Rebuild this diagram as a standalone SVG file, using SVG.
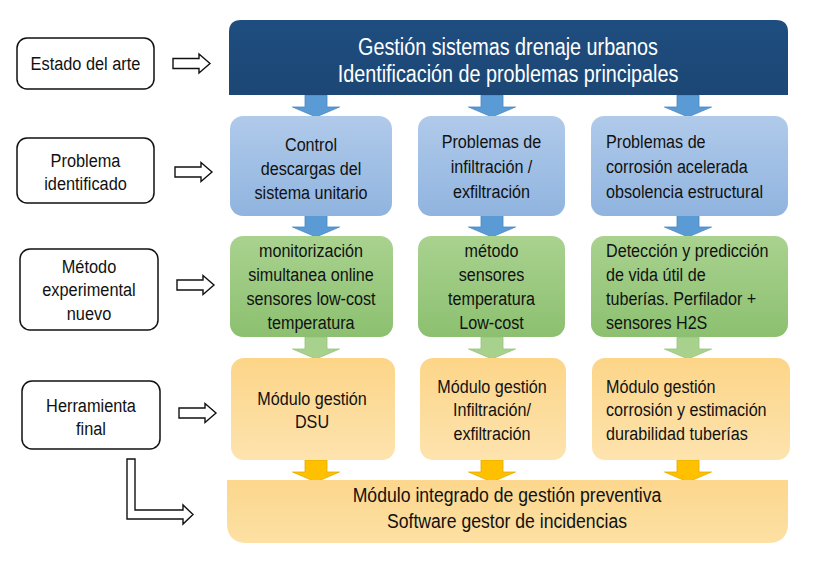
<svg xmlns="http://www.w3.org/2000/svg" width="814" height="569" viewBox="0 0 814 569">
<defs>
<linearGradient id="gBlue" x1="0" y1="0" x2="0" y2="1"><stop offset="0" stop-color="#b0caea"/><stop offset="1" stop-color="#90b4df"/></linearGradient>
<linearGradient id="gGreen" x1="0" y1="0" x2="0" y2="1"><stop offset="0" stop-color="#a9d28f"/><stop offset="1" stop-color="#8cc070"/></linearGradient>
<linearGradient id="gOrange" x1="0" y1="0" x2="0" y2="1"><stop offset="0" stop-color="#fcd588"/><stop offset="1" stop-color="#fde3ae"/></linearGradient>
<linearGradient id="gBottom" x1="0" y1="0" x2="0" y2="1"><stop offset="0" stop-color="#fcd78d"/><stop offset="1" stop-color="#fde0a4"/></linearGradient>
<linearGradient id="gNavy" x1="0" y1="0" x2="0" y2="1"><stop offset="0" stop-color="#1e4d7f"/><stop offset="1" stop-color="#1c4775"/></linearGradient>
<path id="down" d="M-11,0 H11 V12 H23.5 L0,22 L-23.5,12 H-11 Z"/>
<path id="open" d="M0,-5 H26 V-9.5 L37,0 L26,9.5 V5 H0 Z"/>
</defs>
<style>
text{font-family:"Liberation Sans",Arial,sans-serif;font-size:19px;fill:#111;}
.t{text-anchor:middle;}
.s{text-anchor:start;}
.title{font-size:23px;fill:#fff;text-anchor:middle;}
.big{font-size:21px;text-anchor:middle;}
.lab{fill:#fff;stroke:#111;stroke-width:1.5;}
.blue{fill:url(#gBlue);}
.green{fill:url(#gGreen);}
.orange{fill:url(#gOrange);}
.ob{fill:#fff;stroke:#111;stroke-width:1.4;}
.ab{fill:#5b9bd5;stroke:#4a86bf;stroke-width:0.8;}
.ag{fill:#a9d18e;stroke:#98c47c;stroke-width:0.8;}
.ay{fill:#ffc000;stroke:#e5ab00;stroke-width:0.8;}
</style>
<rect width="814" height="569" fill="#fff"/>

<g id="connectors">
<use href="#open" class="ob" transform="translate(173 63.5)"/>
<use href="#open" class="ob" transform="translate(175 172)"/>
<use href="#open" class="ob" transform="translate(177 285)"/>
<use href="#open" class="ob" transform="translate(179 413)"/>
<path class="ob" d="M127,459 H135 V510 H183 V505 L193,514.5 L183,524 V519 H127 Z"/>
<use href="#down" class="ab" transform="translate(316 95)"/>
<use href="#down" class="ab" transform="translate(492 95)"/>
<use href="#down" class="ab" transform="translate(688 95)"/>
<use href="#down" class="ab" transform="translate(316 215)"/>
<use href="#down" class="ab" transform="translate(492 215)"/>
<use href="#down" class="ab" transform="translate(688 215)"/>
<use href="#down" class="ag" transform="translate(316 337)"/>
<use href="#down" class="ag" transform="translate(492 337)"/>
<use href="#down" class="ag" transform="translate(688 337)"/>
<use href="#down" class="ay" transform="translate(316 460)"/>
<use href="#down" class="ay" transform="translate(492 460)"/>
<use href="#down" class="ay" transform="translate(688 460)"/>
</g>

<g id="lab-estado">
<rect class="lab" x="17" y="38" width="137" height="51" rx="10"/>
<text class="t" transform="translate(85.5 70) scale(0.86 1)">Estado del arte</text>
</g>
<g id="lab-problema">
<rect class="lab" x="17" y="138" width="137" height="65" rx="10"/>
<text class="t" transform="translate(85.5 167) scale(0.86 1)"><tspan x="0">Problema</tspan><tspan x="0" dy="23">identificado</tspan></text>
</g>
<g id="lab-metodo">
<rect class="lab" x="20" y="249" width="138" height="81" rx="10"/>
<text class="t" transform="translate(89 273) scale(0.86 1)"><tspan x="0">Método</tspan><tspan x="0" dy="23.5">experimental</tspan><tspan x="0" dy="23.5">nuevo</tspan></text>
</g>
<g id="lab-herramienta">
<rect class="lab" x="22" y="381" width="138" height="68" rx="10"/>
<text class="t" transform="translate(91 412) scale(0.86 1)"><tspan x="0">Herramienta</tspan><tspan x="0" dy="23">final</tspan></text>
</g>

<g id="top">
<path fill="url(#gNavy)" d="M229,95 V32 Q229,20 241,20 H776 Q788,20 788,32 V95 Z"/>
<text class="title" transform="translate(508 55) scale(0.86 1)"><tspan x="0">Gestión sistemas drenaje urbanos</tspan><tspan x="0" dy="27">Identificación de problemas principales</tspan></text>
</g>

<g id="p1">
<rect class="blue" x="230" y="116" width="162" height="100" rx="13"/>
<text class="t" transform="translate(311 151) scale(0.85 1)"><tspan x="0">Control</tspan><tspan x="0" dy="24">descargas del</tspan><tspan x="0" dy="24">sistema unitario</tspan></text>
</g>
<g id="p2">
<rect class="blue" x="418" y="116" width="147" height="100" rx="13"/>
<text class="t" transform="translate(491.5 148) scale(0.85 1)"><tspan x="0">Problemas de</tspan><tspan x="0" dy="25">infiltración /</tspan><tspan x="0" dy="25">exfiltración</tspan></text>
</g>
<g id="p3">
<rect class="blue" x="591" y="116" width="197" height="100" rx="13"/>
<text class="s" transform="translate(606 148) scale(0.85 1)"><tspan x="0">Problemas de</tspan><tspan x="0" dy="25">corrosión acelerada</tspan><tspan x="0" dy="25">obsolencia estructural</tspan></text>
</g>

<g id="m1">
<rect class="green" x="230" y="236" width="163" height="101" rx="13"/>
<text class="t" transform="translate(311 257) scale(0.85 1)"><tspan x="0">monitorización</tspan><tspan x="0" dy="24">simultanea online</tspan><tspan x="0" dy="24">sensores low-cost</tspan><tspan x="0" dy="24">temperatura</tspan></text>
</g>
<g id="m2">
<rect class="green" x="418" y="236" width="147" height="101" rx="13"/>
<text class="t" transform="translate(491.5 257) scale(0.85 1)"><tspan x="0">método</tspan><tspan x="0" dy="24">sensores</tspan><tspan x="0" dy="24">temperatura</tspan><tspan x="0" dy="24">Low-cost</tspan></text>
</g>
<g id="m3">
<rect class="green" x="591" y="236" width="197" height="101" rx="13"/>
<text class="s" transform="translate(606 257) scale(0.85 1)"><tspan x="0">Detección y predicción</tspan><tspan x="0" dy="24">de vida útil de</tspan><tspan x="0" dy="24">tuberías. Perfilador +</tspan><tspan x="0" dy="24">sensores H2S</tspan></text>
</g>

<g id="h1">
<rect class="orange" x="231" y="358" width="164" height="102" rx="13"/>
<text class="t" transform="translate(312 405) scale(0.85 1)"><tspan x="0">Módulo gestión</tspan><tspan x="0" dy="23">DSU</tspan></text>
</g>
<g id="h2">
<rect class="orange" x="420" y="358" width="146" height="102" rx="13"/>
<text class="t" transform="translate(492 393) scale(0.85 1)"><tspan x="0">Módulo gestión</tspan><tspan x="0" dy="23.5">Infiltración/</tspan><tspan x="0" dy="23.5">exfiltración</tspan></text>
</g>
<g id="h3">
<rect class="orange" x="592" y="358" width="198" height="102" rx="13"/>
<text class="s" transform="translate(606 393) scale(0.85 1)"><tspan x="0">Módulo gestión</tspan><tspan x="0" dy="23.5">corrosión y estimación</tspan><tspan x="0" dy="23.5">durabilidad tuberías</tspan></text>
</g>

<g id="final">
<path fill="url(#gBottom)" d="M227,480 H788 V523 Q788,543 768,543 H247 Q227,543 227,523 Z"/>
<text class="big" transform="translate(507 502) scale(0.84 1)"><tspan x="0">Módulo integrado de gestión preventiva</tspan><tspan x="0" dy="26">Software gestor de incidencias</tspan></text>
</g>
</svg>
